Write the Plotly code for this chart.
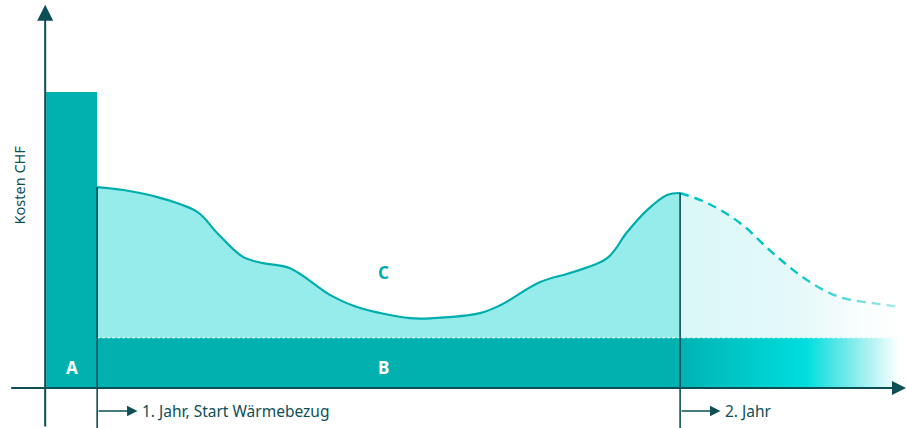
import plotly.graph_objects as go

# ---- data (x: months since start of heat supply, y: cost index) ----
curve_x = [0, 0.54, 1.24, 2.06, 2.47, 3.0, 3.42, 3.97, 4.8, 5.35, 6.44, 6.92,
           7.88, 8.3, 9.12, 9.8, 10.5, 10.91, 11.32, 11.73, 12]
curve_y = [67.9, 66.9, 64.5, 59.5, 52.4, 44.3, 42.2, 40.5, 31.4, 27.4, 23.6, 23.6,
           25.3, 28.0, 35.8, 39.2, 43.9, 52.7, 60.1, 65.2, 65.9]
forecast_x = [12, 12.56, 13.24, 13.91, 14.61, 15.29, 15.97, 16.53]
forecast_y = [65.9, 62.5, 55.7, 45.6, 36.5, 30.7, 28.7, 27.4]
invest_x = [-1.05, 0]          # A: one-off investment
invest_y = 100
base_y = 17                    # B: base cost level
year1_x = [0, 12]
labels = ["A", "B", "C"]
axis_label = "Kosten CHF"
period_labels = ["1. Jahr, Start Wärmebezug", "2. Jahr"]

X_MIN, X_MAX = -2.0, 16.65
Y_MIN, Y_MAX = -13.5, 131.1
AX = "#0e4f56"
TEAL = "#00b1b0"
LINE = "#00adad"
LIGHT = "#95ecea"
FONT = "Noto Sans"

fig = go.Figure()

# C fill (light) year 1
fig.add_trace(go.Scatter(x=curve_x, y=curve_y, mode="lines", line=dict(width=0, shape="spline"),
                         fill="tozeroy", fillcolor=LIGHT, hoverinfo="skip"))
# C fill forecast (fading)
fig.add_trace(go.Scatter(x=forecast_x, y=forecast_y, mode="lines", line=dict(width=0, shape="spline"),
                         fill="tozeroy",
                         fillgradient=dict(type="horizontal", start=forecast_x[0], stop=16.55,
                                           colorscale=[[0, "#daf7f7"], [0.6, "#e6f9f9"],
                                                       [1, "#fbfefe"]]),
                         hoverinfo="skip"))
# B band year 1
fig.add_trace(go.Scatter(x=[year1_x[0], year1_x[1], year1_x[1], year1_x[0]],
                         y=[0, 0, base_y, base_y], mode="lines", line=dict(width=0),
                         fill="toself", fillcolor=TEAL, hoverinfo="skip"))
# B band forecast (gradient)
fig.add_trace(go.Scatter(x=[year1_x[1], X_MAX, X_MAX, year1_x[1]],
                         y=[0, 0, base_y, base_y], mode="lines", line=dict(width=0),
                         fill="toself",
                         fillgradient=dict(type="horizontal", start=year1_x[1], stop=X_MAX,
                                           colorscale=[[0, "#00b3b3"], [0.56, "#00dede"],
                                                       [0.7, "#5ae6e6"], [0.97, "#ffffff"],
                                                       [1, "#ffffff"]]),
                         hoverinfo="skip"))
# white dashed separation line
fig.add_trace(go.Scatter(x=[year1_x[0], X_MAX], y=[base_y, base_y], mode="lines",
                         line=dict(color="white", width=1, dash="3px,2px"), hoverinfo="skip"))
# A bar
fig.add_trace(go.Scatter(x=[invest_x[0], invest_x[1], invest_x[1], invest_x[0]],
                         y=[0, 0, invest_y, invest_y], mode="lines", line=dict(width=0),
                         fill="toself", fillcolor=TEAL, hoverinfo="skip"))
# C line
fig.add_trace(go.Scatter(x=curve_x, y=curve_y, mode="lines",
                         line=dict(color=LINE, width=2.2, shape="spline"), hoverinfo="skip"))
# forecast dashed line
fig.add_trace(go.Scatter(x=forecast_x, y=forecast_y, mode="lines",
                         line=dict(color="#00c4c4", width=2.4, dash="9px,6px", shape="spline"),
                         hoverinfo="skip"))
# white fade overlay for forecast line
fig.add_trace(go.Scatter(x=[year1_x[1], X_MAX, X_MAX, year1_x[1]],
                         y=[base_y + 0.4, base_y + 0.4, 75, 75], mode="lines", line=dict(width=0),
                         fill="toself",
                         fillgradient=dict(type="horizontal", start=year1_x[1], stop=16.55,
                                           colorscale=[[0, "rgba(255,255,255,0)"],
                                                       [0.5, "rgba(255,255,255,0)"],
                                                       [1, "rgba(255,255,255,0.7)"]]),
                         hoverinfo="skip"))
# vertical period lines
for xv, yv in [(year1_x[0], curve_y[0]), (year1_x[1], curve_y[-1])]:
    fig.add_trace(go.Scatter(x=[xv, xv], y=[yv, Y_MIN], mode="lines",
                             line=dict(color=AX, width=1.6), hoverinfo="skip"))

yaxis_x = -1.07
ann = []
# axes with arrows
ann.append(dict(x=yaxis_x, y=129.5, ax=yaxis_x, ay=Y_MIN, xref="x", yref="y", axref="x", ayref="y",
                text="", showarrow=True, arrowhead=2, arrowsize=1.6, arrowwidth=2, arrowcolor=AX,
                standoff=0))
ann.append(dict(x=X_MAX, y=0, ax=-1.8, ay=0, xref="x", yref="y", axref="x", ayref="y",
                text="", showarrow=True, arrowhead=2, arrowsize=1.4, arrowwidth=2, arrowcolor=AX,
                standoff=0))
# period arrows
arr_y = -7.77
for xs, lab in zip(year1_x, period_labels):
    ann.append(dict(x=xs + 0.83, y=arr_y, ax=xs, ay=arr_y, xref="x", yref="y", axref="x", ayref="y",
                    text="", showarrow=True, arrowhead=2, arrowsize=1.3, arrowwidth=1.6,
                    arrowcolor=AX, standoff=0))
    ann.append(dict(x=xs + 0.88, y=arr_y, xref="x", yref="y", text=lab, showarrow=False,
                    xanchor="left", yanchor="middle",
                    font=dict(family=FONT, size=15.5, color=AX)))
# A, B, C labels
ann.append(dict(x=(invest_x[0] + invest_x[1]) / 2, y=7.1, text="<b>A</b>", showarrow=False,
                font=dict(family=FONT, size=17, color="white")))
ann.append(dict(x=5.9, y=7.1, text="<b>B</b>", showarrow=False,
                font=dict(family=FONT, size=17, color="white")))
ann.append(dict(x=5.9, y=39.2, text="<b>C</b>", showarrow=False,
                font=dict(family=FONT, size=17, color=LINE)))
# y axis label
ann.append(dict(x=-1.6, y=68.6, text=axis_label, showarrow=False, textangle=-90,
                font=dict(family=FONT, size=14.5, color=AX)))

fig.update_layout(
    width=906, height=428, margin=dict(l=0, r=0, t=0, b=0),
    paper_bgcolor="white", plot_bgcolor="white", showlegend=False,
    xaxis=dict(range=[X_MIN, X_MAX], visible=False, fixedrange=True),
    yaxis=dict(range=[Y_MIN, Y_MAX], visible=False, fixedrange=True),
    annotations=ann,
)
fig.write_html("out.html", config={"displayModeBar": False},
               post_script="document.body.style.margin='0';document.body.style.overflow='hidden';")
